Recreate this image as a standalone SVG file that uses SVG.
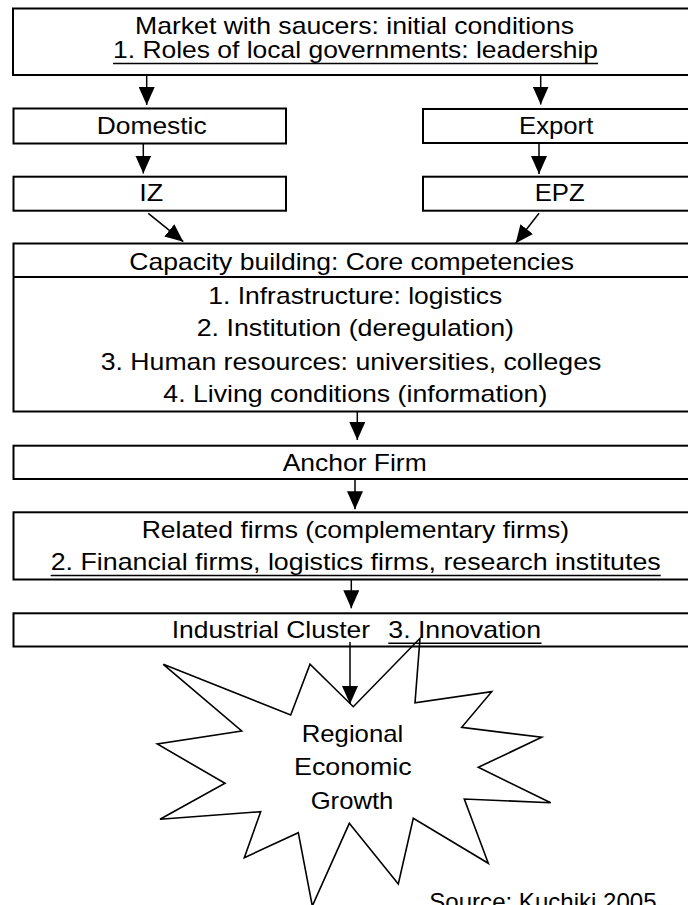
<svg xmlns="http://www.w3.org/2000/svg" width="688" height="905" viewBox="0 0 688 905">
  <style>
    .box { fill: #ffffff; stroke: #000000; stroke-width: 2; }
    .t { font-family: "Liberation Sans", Arial, sans-serif; font-size: 24px; fill: #000000; }
    .ul { stroke: #000000; stroke-width: 1.5; }
    .conn { stroke: #000000; stroke-width: 1.5; fill: none; marker-end: url(#ah); }
    .star { fill: none; stroke: #000000; stroke-width: 1.6; stroke-linejoin: miter; }
  </style>
  <defs>
    <marker id="ah" markerUnits="userSpaceOnUse" markerWidth="18" markerHeight="16" refX="18" refY="8" orient="auto">
      <path d="M0,0 L18,8 L0,16 Z" fill="#000000"/>
    </marker>
  </defs>
  <rect width="688" height="905" fill="#ffffff"/>

  <g id="node-market">
    <rect class="box" x="13" y="8.5" width="700" height="66.5"/>
    <text class="t" x="135" y="34" textLength="439" lengthAdjust="spacingAndGlyphs">Market with saucers: initial conditions</text>
    <text class="t" x="113" y="58" textLength="485" lengthAdjust="spacingAndGlyphs">1. Roles of local governments: leadership</text>
    <line class="ul" x1="113" y1="63.5" x2="598" y2="63.5"/>
  </g>

  <g id="node-domestic">
    <rect class="box" x="13.5" y="108.5" width="272.5" height="35"/>
    <text class="t" x="96.7" y="134" textLength="110" lengthAdjust="spacingAndGlyphs">Domestic</text>
  </g>

  <g id="node-export">
    <rect class="box" x="423" y="109" width="290" height="34"/>
    <text class="t" x="519" y="134" textLength="74.3" lengthAdjust="spacingAndGlyphs">Export</text>
  </g>

  <g id="node-iz">
    <rect class="box" x="13.5" y="176.7" width="272.5" height="34"/>
    <text class="t" x="139.3" y="200.5" textLength="24" lengthAdjust="spacingAndGlyphs">IZ</text>
  </g>

  <g id="node-epz">
    <rect class="box" x="423" y="176.7" width="290" height="34"/>
    <text class="t" x="534.7" y="200.5" textLength="50" lengthAdjust="spacingAndGlyphs">EPZ</text>
  </g>

  <g id="node-capacity">
    <rect class="box" x="13.5" y="243.5" width="700" height="168"/>
    <line class="box" x1="13.5" y1="277" x2="713" y2="277"/>
    <text class="t" x="129.3" y="270" textLength="444.7" lengthAdjust="spacingAndGlyphs">Capacity building: Core competencies</text>
    <text class="t" x="208.3" y="304" textLength="294" lengthAdjust="spacingAndGlyphs">1. Infrastructure: logistics</text>
    <text class="t" x="196.7" y="335.5" textLength="317.3" lengthAdjust="spacingAndGlyphs">2. Institution (deregulation)</text>
    <text class="t" x="100.7" y="370" textLength="500.6" lengthAdjust="spacingAndGlyphs">3. Human resources: universities, colleges</text>
    <text class="t" x="163.3" y="401.5" textLength="384" lengthAdjust="spacingAndGlyphs">4. Living conditions (information)</text>
  </g>

  <g id="node-anchor">
    <rect class="box" x="13.5" y="445.7" width="700" height="33.3"/>
    <text class="t" x="282.7" y="470.7" textLength="144" lengthAdjust="spacingAndGlyphs">Anchor Firm</text>
  </g>

  <g id="node-related">
    <rect class="box" x="13.5" y="512.3" width="700" height="67.2"/>
    <text class="t" x="141.7" y="538.3" textLength="427.3" lengthAdjust="spacingAndGlyphs">Related firms (complementary firms)</text>
    <text class="t" x="50.7" y="570" textLength="610" lengthAdjust="spacingAndGlyphs">2. Financial firms, logistics firms, research institutes</text>
    <line class="ul" x1="50.7" y1="575.5" x2="660.7" y2="575.5"/>
  </g>

  <g id="node-industrial">
    <rect class="box" x="13.5" y="613.3" width="700" height="33.2"/>
    <text class="t" x="171.7" y="638.3" textLength="198.3" lengthAdjust="spacingAndGlyphs">Industrial Cluster</text>
    <text class="t" x="388.3" y="638.3" textLength="152.7" lengthAdjust="spacingAndGlyphs">3. Innovation</text>
    <line class="ul" x1="388.3" y1="643.3" x2="541.5" y2="643.3"/>
  </g>

  <g id="node-growth">
    <polygon class="star" points="420,638.3 415,702.7 491.7,691.7 461.7,727.3 541.7,737.3 478.3,767.3 550.7,802.7 464.3,799 488.3,863.3 413.3,818.3 398.3,884 349.3,823.3 312.3,906 298.3,832.7 244.3,857.7 260.7,811.7 160,819.3 225,783.3 157.3,744 241.7,731 163.3,664.3 290.7,715 310,664.3 353.3,706.7"/>
    <text class="t" x="301.7" y="741.7" textLength="101.6" lengthAdjust="spacingAndGlyphs">Regional</text>
    <text class="t" x="294" y="775" textLength="117.7" lengthAdjust="spacingAndGlyphs">Economic</text>
    <text class="t" x="310.7" y="809.3" textLength="82.6" lengthAdjust="spacingAndGlyphs">Growth</text>
  </g>

  <g id="source-note">
    <text class="t" x="429.3" y="910" textLength="227.3" lengthAdjust="spacingAndGlyphs">Source: Kuchiki 2005</text>
  </g>

  <g id="connectors">
    <line class="conn" x1="146.7" y1="75" x2="146.7" y2="105"/>
    <line class="conn" x1="540.7" y1="75" x2="540.7" y2="104.5"/>
    <line class="conn" x1="143.3" y1="143.5" x2="143.3" y2="173.5"/>
    <line class="conn" x1="539" y1="143" x2="539" y2="174"/>
    <line class="conn" x1="148.3" y1="213.3" x2="183.3" y2="241.7"/>
    <line class="conn" x1="539" y1="213.3" x2="515.7" y2="243.3"/>
    <line class="conn" x1="357.3" y1="411.7" x2="357.3" y2="440"/>
    <line class="conn" x1="355" y1="479" x2="355" y2="509.3"/>
    <line class="conn" x1="351.3" y1="579.5" x2="351.3" y2="608.3"/>
    <line class="conn" x1="350" y1="642" x2="350" y2="704"/>
  </g>
</svg>
